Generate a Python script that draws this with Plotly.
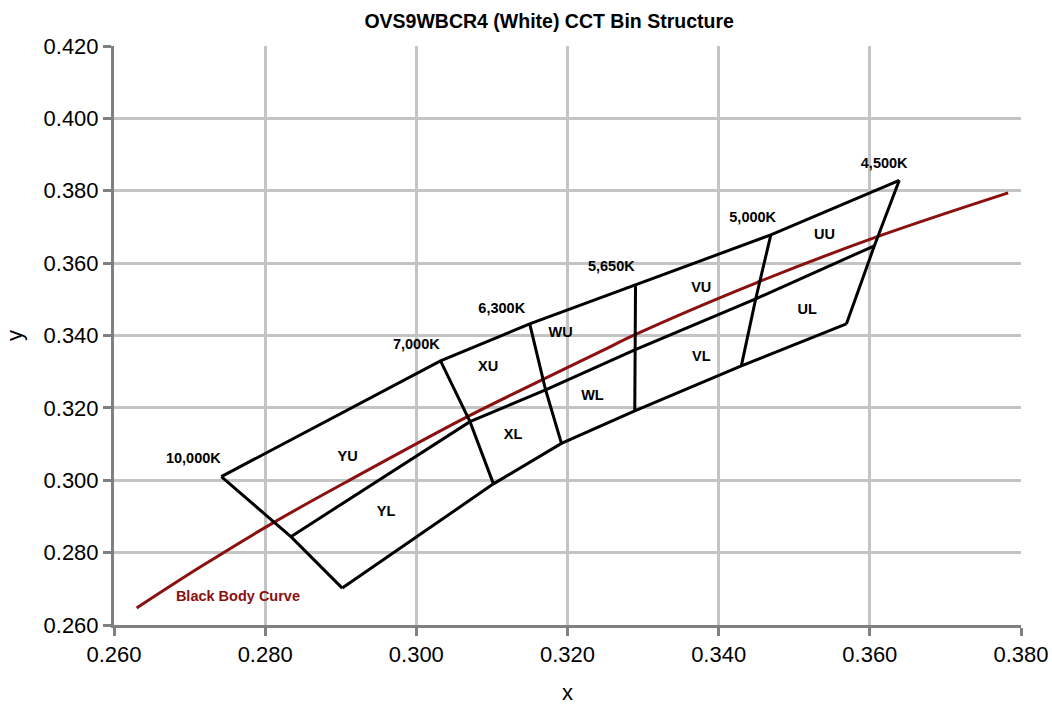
import plotly.graph_objects as go

# CCT boundaries (left to right)
cct_labels = ["10,000K", "7,000K", "6,300K", "5,650K", "5,000K", "4,500K"]
cct_label_x = [0.2705, 0.3000, 0.3113, 0.3258, 0.3445, 0.3619]
cct_label_y = [0.3059, 0.3372, 0.3471, 0.3588, 0.3723, 0.3872]

# upper edge, middle (U/L split) line, lower edge of the bin structure
top_x = [0.2742, 0.3032, 0.3150, 0.3290, 0.3469, 0.3639]
top_y = [0.3010, 0.3330, 0.3432, 0.3540, 0.3678, 0.3829]
mid_x = [0.2834, 0.3071, 0.3171, 0.3289, 0.3449, 0.3606]
mid_y = [0.2844, 0.3162, 0.3250, 0.3360, 0.3501, 0.3648]
bot_x = [0.2902, 0.3102, 0.3192, 0.3289, 0.3430, 0.3569]
bot_y = [0.2702, 0.2990, 0.3102, 0.3192, 0.3316, 0.3432]

# bin names
bin_labels = ["YU", "YL", "XU", "XL", "WU", "WL", "VU", "VL", "UU", "UL"]
bin_x = [0.2909, 0.2960, 0.3095, 0.3128, 0.3191, 0.3233, 0.3377, 0.3377, 0.3540, 0.3517]
bin_y = [0.3062, 0.2910, 0.3311, 0.3123, 0.3405, 0.3231, 0.3529, 0.3339, 0.3676, 0.3469]

# black body (Planckian) curve
bb_x = [0.2630, 0.2714, 0.2811, 0.2908, 0.3067, 0.3169, 0.3244, 0.3290, 0.3449, 0.3610, 0.3783]
bb_y = [0.2647, 0.2760, 0.2883, 0.2996, 0.3175, 0.3280, 0.3356, 0.3403, 0.3545, 0.3673, 0.3794]
bb_label = "Black Body Curve"
bb_label_x, bb_label_y = 0.2764, 0.2675

BB_COLOR = "#8b1010"
LINE = dict(color="black", width=3)
FONT = "Liberation Sans, Arial, sans-serif"

fig = go.Figure()

fig.add_trace(go.Scatter(x=bb_x, y=bb_y, mode="lines",
                         line=dict(color=BB_COLOR, width=3, shape="spline"),
                         hoverinfo="skip"))

for xs, ys in [(top_x, top_y), (mid_x, mid_y), (bot_x, bot_y)]:
    fig.add_trace(go.Scatter(x=xs, y=ys, mode="lines", line=LINE, hoverinfo="skip"))

for i in range(len(top_x)):
    fig.add_trace(go.Scatter(x=[top_x[i], mid_x[i], bot_x[i]],
                             y=[top_y[i], mid_y[i], bot_y[i]],
                             mode="lines", line=LINE, hoverinfo="skip"))

label_font = dict(family=FONT, size=14.5, color="black")

fig.add_trace(go.Scatter(x=cct_label_x, y=cct_label_y, mode="text", text=cct_labels,
                         texttemplate="<b>%{text}</b>", textfont=label_font,
                         textposition="middle center", hoverinfo="skip"))
fig.add_trace(go.Scatter(x=bin_x, y=bin_y, mode="text", text=bin_labels,
                         texttemplate="<b>%{text}</b>", textfont=label_font,
                         textposition="middle center", hoverinfo="skip"))
fig.add_trace(go.Scatter(x=[bb_label_x], y=[bb_label_y], mode="text", text=[bb_label],
                         texttemplate="<b>%{text}</b>",
                         textfont=dict(family=FONT, size=14.5, color=BB_COLOR),
                         textposition="middle center", hoverinfo="skip"))

axis_common = dict(
    showgrid=True, gridcolor="#c4c4c4", gridwidth=3,
    showline=True, linecolor="#808080", linewidth=3,
    ticks="outside", ticklen=8, tickwidth=3, tickcolor="#808080",
    tickfont=dict(family=FONT, size=22, color="black"),
    tickformat=".3f", zeroline=False, automargin=False,
)

fig.update_layout(
    width=1052, height=707,
    paper_bgcolor="white", plot_bgcolor="white",
    showlegend=False,
    margin=dict(l=114, r=31, t=46, b=82),
    title=dict(text="<b>OVS9WBCR4 (White) CCT Bin Structure</b>",
               x=0.522, xanchor="center", y=0.970, yanchor="middle",
               font=dict(family=FONT, size=19.5, color="black")),
    xaxis=dict(range=[0.26, 0.38], dtick=0.02, tick0=0.26, **axis_common),
    yaxis=dict(range=[0.26, 0.42], dtick=0.02, tick0=0.26, **axis_common),
    annotations=[
        dict(text="x", xref="paper", yref="paper", x=0.5, y=-0.1416,
             xanchor="center", yanchor="bottom", showarrow=False,
             font=dict(family=FONT, size=22, color="black")),
        dict(text="y", xref="paper", yref="paper", x=-0.1257, y=0.50,
             xanchor="left", yanchor="middle", showarrow=False, textangle=-90,
             font=dict(family=FONT, size=22, color="black")),
    ],
)

fig.write_html(
    "out.html",
    config={"displayModeBar": False},
    post_script="document.body.style.margin='0';document.body.style.overflow='hidden';",
)
